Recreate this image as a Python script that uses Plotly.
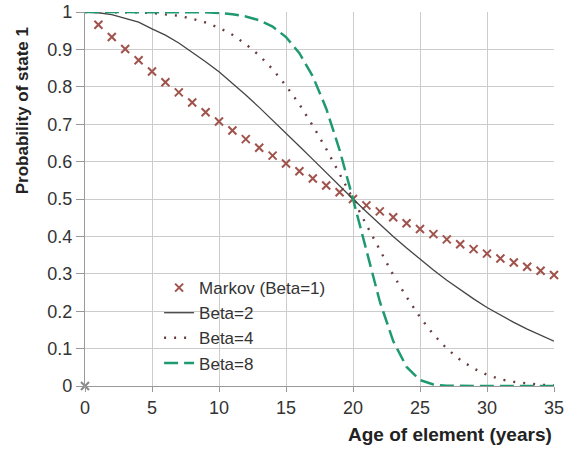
import plotly.graph_objects as go

years = list(range(0, 36))

markov_years = list(range(1, 36))
markov = [0.966, 0.933, 0.901, 0.871, 0.841, 0.812, 0.785, 0.758, 0.732, 0.707,
          0.683, 0.660, 0.637, 0.616, 0.595, 0.574, 0.555, 0.536, 0.518, 0.500,
          0.483, 0.467, 0.451, 0.435, 0.420, 0.406, 0.392, 0.379, 0.366, 0.354,
          0.341, 0.330, 0.319, 0.308, 0.297]
markov_origin_x = [0]
markov_origin_y = [0]

beta2 = [1.000, 0.998, 0.993, 0.984, 0.973, 0.955, 0.938, 0.917, 0.893, 0.867,
         0.840, 0.810, 0.778, 0.745, 0.711, 0.676, 0.641, 0.606, 0.570, 0.535,
         0.500, 0.466, 0.432, 0.400, 0.369, 0.339, 0.310, 0.283, 0.257, 0.233,
         0.210, 0.189, 0.170, 0.152, 0.135, 0.120]

beta4 = [1.000, 1.000, 1.000, 1.000, 0.999, 0.997, 0.994, 0.990, 0.982, 0.972,
         0.958, 0.939, 0.914, 0.884, 0.847, 0.803, 0.753, 0.696, 0.634, 0.569,
         0.500, 0.431, 0.362, 0.297, 0.238, 0.184, 0.138, 0.100, 0.070, 0.047,
         0.030, 0.018, 0.011, 0.006, 0.003, 0.0015]

beta8 = [1.000, 1.000, 1.000, 1.000, 1.000, 1.000, 1.000, 1.000, 1.000, 0.999,
         0.997, 0.994, 0.988, 0.978, 0.961, 0.933, 0.890, 0.828, 0.742, 0.631,
         0.500, 0.359, 0.226, 0.120, 0.051, 0.016, 0.004, 0.0005, 0.0, 0.0,
         0.0, 0.0, 0.0, 0.0, 0.0, 0.0]

x_ticks = [0, 5, 10, 15, 20, 25, 30, 35]
y_ticks = [0, 0.1, 0.2, 0.3, 0.4, 0.5, 0.6, 0.7, 0.8, 0.9, 1]
y_tick_labels = ["0", "0.1", "0.2", "0.3", "0.4", "0.5", "0.6", "0.7", "0.8", "0.9", "1"]

FONT = "Liberation Sans, Arial, sans-serif"
markov_color = "#a0524c"
TXT = "#333333"

fig = go.Figure()

fig.add_trace(go.Scatter(
    x=markov_years, y=markov, mode="markers", name="Markov (Beta=1)",
    marker=dict(symbol="x-thin", size=8, line=dict(width=2, color=markov_color), color=markov_color),
    cliponaxis=False))
fig.add_trace(go.Scatter(
    x=markov_origin_x, y=markov_origin_y, mode="markers", showlegend=False,
    marker=dict(symbol="x-thin", size=8, line=dict(width=2, color="#888888"), color="#888888"),
    cliponaxis=False))
fig.add_trace(go.Scatter(
    x=years, y=beta2, mode="lines", name="Beta=2",
    line=dict(color="#444444", width=1.3)))
fig.add_trace(go.Scatter(
    x=years, y=beta4, mode="lines", name="Beta=4",
    line=dict(color="#6a3c3c", width=2.4, dash="2px,8px")))
fig.add_trace(go.Scatter(
    x=years, y=beta8, mode="lines", name="Beta=8",
    line=dict(color="#1f9a70", width=2.5, dash="14px,6px")))

fig.update_layout(
    width=565, height=452,
    margin=dict(l=85, r=11, t=12, b=66, autoexpand=False),
    paper_bgcolor="white", plot_bgcolor="white",
    font=dict(family=FONT, size=18, color=TXT),
    showlegend=True,
    legend=dict(x=0.158, y=0.31, xanchor="left", yanchor="top",
                bgcolor="rgba(0,0,0,0)", font=dict(size=17, color=TXT),
                tracegroupgap=0),
    xaxis=dict(range=[0, 35], tickvals=x_ticks, showgrid=True, gridcolor="#cccccc",
               gridwidth=1.3, showline=True, linecolor="#999999", linewidth=1.3,
               ticks="outside", ticklen=5, tickcolor="#999999", zeroline=False,
               automargin=False, tickfont=dict(size=18, color=TXT)),
    yaxis=dict(range=[0, 1], tickvals=y_ticks, ticktext=y_tick_labels, showgrid=True,
               gridcolor="#cccccc", gridwidth=1.3, showline=True, linecolor="#999999",
               linewidth=1.3, ticks="outside", ticklen=8, tickcolor="#999999",
               zeroline=False, automargin=False, tickfont=dict(size=18, color=TXT)),
    annotations=[
        dict(text="<b>Age of element (years)</b>", xref="paper", yref="paper",
             x=1.0, y=-0.1305, xanchor="right", yanchor="middle", showarrow=False,
             font=dict(size=19, color="#222222")),
        dict(text="<b>Probability of state 1</b>", xref="paper", yref="paper",
             x=-0.134, y=0.735, xanchor="center", yanchor="middle", showarrow=False,
             textangle=-90, font=dict(size=17, color="#222222")),
    ],
)

fig.write_html("out.html")
